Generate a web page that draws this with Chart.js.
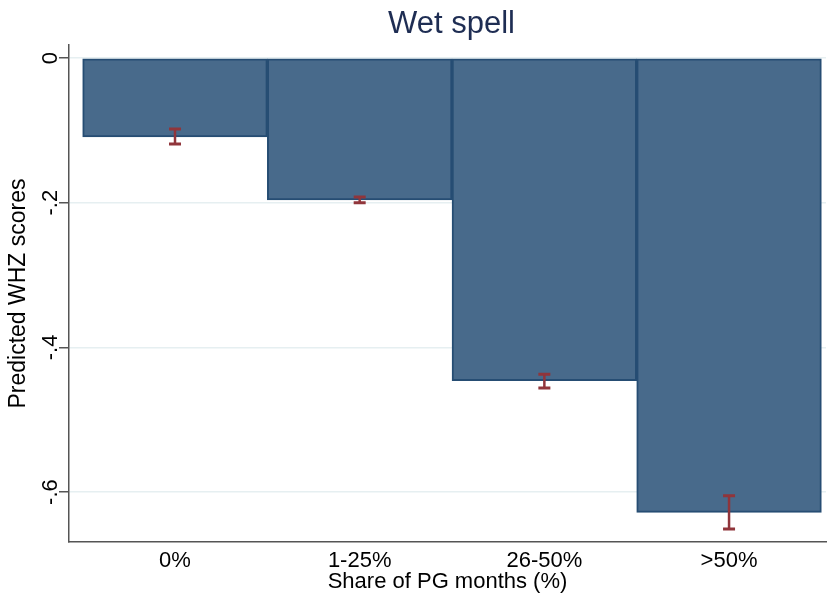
<!DOCTYPE html>
<html>
<head>
<meta charset="utf-8">
<title>Wet spell</title>
<script src="https://cdn.jsdelivr.net/npm/chart.js@4/dist/chart.umd.min.js"></script>
<style>
  html, body { margin: 0; padding: 0; background: #ffffff; }
  canvas { display: block; }
</style>
</head>
<body>
<canvas id="chart" width="827" height="597"></canvas>
<script>
// Predicted WHZ scores by share of PG months, with confidence intervals
const categories = ['0%', '1-25%', '26-50%', '>50%'];
const predicted = [-0.109, -0.196, -0.446, -0.628];
const ciLower = [-0.119, -0.200, -0.456, -0.651];
const ciUpper = [-0.098, -0.192, -0.437, -0.605];
const yTickValues = [0, -0.2, -0.4, -0.6];
const yTickLabels = ['0', '-.2', '-.4', '-.6'];

const FONT = '"Liberation Sans", Arial, sans-serif';
const BAR_FILL = 'rgb(72,106,139)';
const BAR_EDGE = 'rgb(38,77,115)';
const CI_COLOR = 'rgb(144,53,59)';
const AXIS_COLOR = '#555555';
const GRID_COLOR = '#e6eff1';

// Title centred over the plotting region
const plotTitle = {
  id: 'plotTitle',
  afterDraw(chart) {
    const { ctx, chartArea } = chart;
    ctx.save();
    ctx.font = '31px ' + FONT;
    ctx.fillStyle = 'rgb(30,45,83)';
    ctx.textAlign = 'center';
    ctx.textBaseline = 'middle';
    ctx.fillText('Wet spell', (chartArea.left + chartArea.right) / 2 + 4, 24);
    ctx.restore();
  }
};

// Capped confidence-interval spikes on each bar
const ciBars = {
  id: 'ciBars',
  afterDatasetsDraw(chart) {
    const { ctx, scales } = chart;
    const xs = scales.x, ys = scales.y;
    ctx.save();
    ctx.strokeStyle = CI_COLOR;
    ctx.lineCap = 'butt';
    categories.forEach((c, i) => {
      const x = xs.getPixelForValue(i + 1);
      const yLo = ys.getPixelForValue(ciLower[i]);
      const yHi = ys.getPixelForValue(ciUpper[i]);
      const cap = 6;
      ctx.lineWidth = 2.5;
      ctx.beginPath();
      ctx.moveTo(x, yHi);
      ctx.lineTo(x, yLo);
      ctx.stroke();
      ctx.lineWidth = 3;
      ctx.beginPath();
      ctx.moveTo(x - cap, yHi);
      ctx.lineTo(x + cap, yHi);
      ctx.moveTo(x - cap, yLo);
      ctx.lineTo(x + cap, yLo);
      ctx.stroke();
    });
    ctx.restore();
  }
};

new Chart(document.getElementById('chart'), {
  type: 'bar',
  data: {
    datasets: [{
      data: predicted.map((v, i) => ({ x: i + 1, y: v })),
      backgroundColor: BAR_FILL,
      borderColor: BAR_EDGE,
      borderWidth: 2,
      borderSkipped: false,
      barPercentage: 1,
      categoryPercentage: 1
    }]
  },
  options: {
    responsive: false,
    devicePixelRatio: 1,
    animation: false,
    layout: { padding: { top: 45, right: 1, bottom: 0, left: 0 } },
    plugins: {
      legend: { display: false },
      tooltip: { enabled: false },
      title: { display: false }
    },
    scales: {
      x: {
        type: 'linear',
        offset: false,
        min: 0.426,
        max: 4.525,
        afterBuildTicks(scale) {
          scale.ticks = categories.map((c, i) => ({ value: i + 1 }));
        },
        afterFit(scale) {
          scale.height = 55;
          scale.paddingLeft = 0;
          scale.paddingRight = 0;
        },
        grid: { display: false, drawTicks: false },
        border: { display: true, color: AXIS_COLOR, width: 1.5 },
        ticks: {
          padding: 6,
          color: '#000000',
          font: { family: FONT, size: 22 },
          maxRotation: 0,
          minRotation: 0,
          callback: (v) => categories[Math.round(v) - 1]
        },
        title: {
          display: true,
          text: 'Share of PG months (%)',
          color: '#000000',
          font: { family: FONT, size: 22 },
          padding: { top: 0, bottom: 2 }
        }
      },
      y: {
        type: 'linear',
        position: 'left',
        min: -0.669,
        max: 0.018,
        afterBuildTicks(scale) {
          scale.ticks = yTickValues.map(v => ({ value: v }));
        },
        afterFit(scale) {
          scale.width = 69;
          scale.paddingTop = 0;
          scale.paddingBottom = 0;
        },
        grid: {
          color: GRID_COLOR,
          lineWidth: 1.5,
          tickColor: AXIS_COLOR,
          tickWidth: 1.5,
          tickLength: 10,
          drawOnChartArea: true
        },
        border: { display: true, color: AXIS_COLOR, width: 1.5 },
        ticks: {
          minRotation: 90,
          maxRotation: 90,
          crossAlign: 'center',
          padding: -5,
          color: '#000000',
          font: { family: FONT, size: 22 },
          callback: (v) => {
            const k = yTickValues.findIndex(t => Math.abs(t - v) < 1e-9);
            return k >= 0 ? yTickLabels[k] : '';
          }
        },
        title: {
          display: true,
          text: 'Predicted WHZ scores',
          color: '#000000',
          font: { family: FONT, size: 23 },
          padding: { top: 5, bottom: 0 }
        }
      }
    }
  },
  plugins: [plotTitle, ciBars]
});
</script>
</body>
</html>
